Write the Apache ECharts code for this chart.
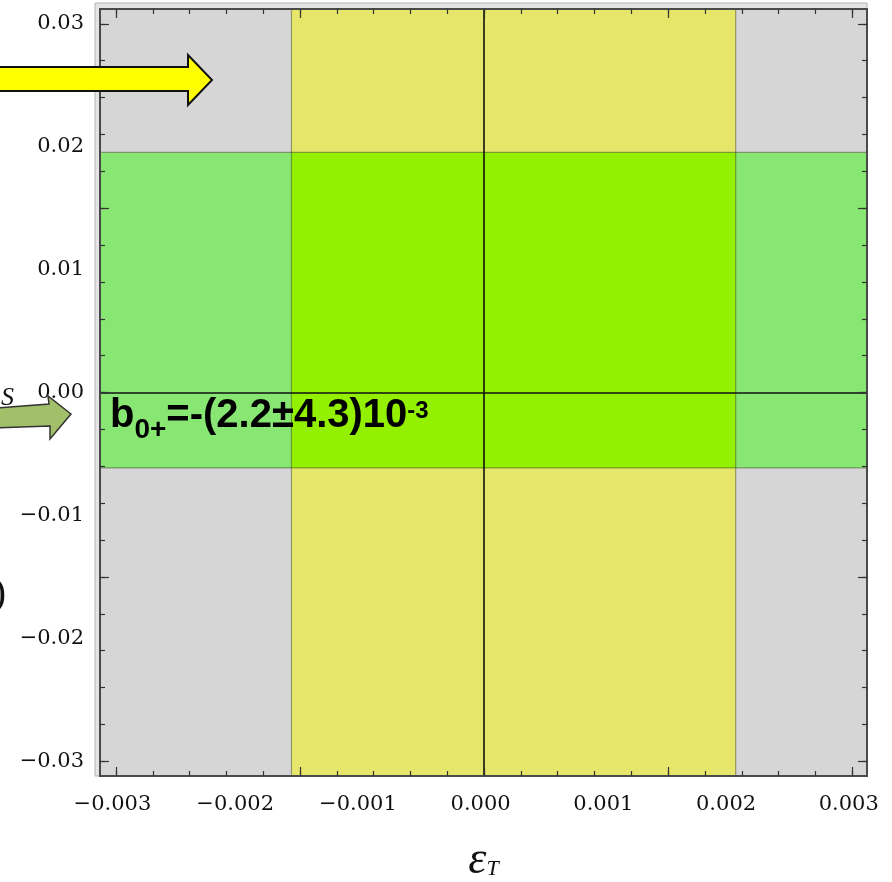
<!DOCTYPE html>
<html>
<head>
<meta charset="utf-8">
<script src="https://cdn.jsdelivr.net/npm/echarts@6/dist/echarts.min.js"></script>
<style>html,body{margin:0;padding:0;background:#fff;}#c{width:892px;height:882px;}</style>
</head>
<body>
<div id="c"></div>
<script>
// ---- data ----
const xRange = [-0.00313, 0.00312];
const yRange = [-0.0312, 0.0312];
const epsTBand = [-0.00157, 0.00205];   // allowed epsilon_T (vertical yellow band)
const b0Band = [-0.00614, 0.01953];     // allowed region (horizontal green band)
const xTickLabels = [-0.003, -0.002, -0.001, 0, 0.001, 0.002, 0.003];
const xMajorTicks = [-0.003, -0.0015, 0, 0.0015, 0.003];
const xMinorTicks = [-0.003, -0.0027, -0.0024, -0.0021, -0.0018, -0.0015, -0.0012, -0.0009, -0.0006, -0.0003, 0,
                     0.0003, 0.0006, 0.0009, 0.0012, 0.0015, 0.0018, 0.0021, 0.0024, 0.0027, 0.003];
const yTickLabels = [-0.03, -0.02, -0.01, 0, 0.01, 0.02, 0.03];
const yMajorTicks = [-0.03, -0.015, 0, 0.015, 0.03];
const yMinorTicks = [-0.03, -0.027, -0.024, -0.021, -0.018, -0.015, -0.012, -0.009, -0.006, -0.003, 0,
                     0.003, 0.006, 0.009, 0.012, 0.015, 0.018, 0.021, 0.024, 0.027, 0.03];

const frameLine = {show: true, onZero: false, lineStyle: {color: '#4a4a4a', width: 2}};
const tickStyle = {color: '#333', width: 1.2};
function fmt(v, d) {
  const s = Math.abs(v).toFixed(d);
  return (v < -1e-12 ? '\u2212' : '') + s;
}
const labelFont = {fontFamily: 'DejaVu Serif', fontSize: 21, color: '#111'};

function xAx(gridIndex, position, ticks, len, withLabels) {
  const a = {
    type: 'value', gridIndex, position, min: xRange[0], max: xRange[1], z: 10,
    axisLine: frameLine,
    axisTick: {show: true, inside: true, length: len, lineStyle: tickStyle, customValues: ticks},
    axisLabel: {show: false},
    splitLine: {show: false}
  };
  if (withLabels) {
    a.axisLabel = Object.assign({show: true, customValues: xTickLabels, margin: 18, padding: [0, 7, 0, 0],
      formatter: v => fmt(v, 3)}, labelFont);
    a.name = '{e|\u03b5}{t|T}';
    a.nameLocation = 'middle';
    a.nameGap = 62;
    a.nameTextStyle = {
      rich: {
        e: {fontFamily: 'Liberation Serif', fontStyle: 'italic', fontSize: 46, color: '#111', lineHeight: 46},
        t: {fontFamily: 'Liberation Serif', fontStyle: 'italic', fontSize: 22, color: '#111', lineHeight: 22, padding: [16, 0, 0, 0]}
      }
    };
  }
  return a;
}
function yAx(gridIndex, position, ticks, len, withLabels) {
  const a = {
    type: 'value', gridIndex, position, min: yRange[0], max: yRange[1], z: 10,
    axisLine: frameLine,
    axisTick: {show: true, inside: true, length: len, lineStyle: tickStyle, customValues: ticks},
    axisLabel: {show: false},
    splitLine: {show: false}
  };
  if (withLabels) {
    a.axisLabel = Object.assign({show: true, customValues: yTickLabels, margin: 16, padding: [0, 0, 5, 0],
      formatter: v => fmt(v, 2)}, labelFont);
  }
  return a;
}

const gridBox = {left: 100, right: 25, top: 9, bottom: 106, containLabel: false, outerBoundsMode: 'none'};

const fillData = [
  {value: [epsTBand[0], epsTBand[1], yRange[0], yRange[1]], itemStyle: {color: '#e6e66b'}},
  {value: [xRange[0], xRange[1], b0Band[0], b0Band[1]], itemStyle: {color: '#88e673'}},
  {value: [epsTBand[0], epsTBand[1], b0Band[0], b0Band[1]], itemStyle: {color: '#92f000'}}
];
const edgeData = [
  {value: [epsTBand[0], epsTBand[1], yRange[0], yRange[1]]},
  {value: [xRange[0], xRange[1], b0Band[0], b0Band[1]]}
];

function rectItem(api, style) {
  const p0 = api.coord([api.value(0), api.value(3)]);
  const p1 = api.coord([api.value(1), api.value(2)]);
  return {type: 'rect', shape: {x: p0[0], y: p0[1], width: p1[0] - p0[0], height: p1[1] - p0[1]}, style};
}

const chart = echarts.init(document.getElementById('c'), null, {renderer: 'canvas'});
chart.setOption({
  animation: false,
  backgroundColor: '#ffffff',
  grid: [
    Object.assign({show: true, backgroundColor: '#d6d6d6', borderWidth: 0}, gridBox),
    Object.assign({show: false}, gridBox)
  ],
  xAxis: [
    xAx(0, 'bottom', xMajorTicks, 9, true),
    xAx(0, 'top', xMajorTicks, 9, false),
    xAx(1, 'bottom', xMinorTicks, 5, false),
    xAx(1, 'top', xMinorTicks, 5, false)
  ],
  yAxis: [
    yAx(0, 'left', yMajorTicks, 9, true),
    yAx(0, 'right', yMajorTicks, 9, false),
    yAx(1, 'left', yMinorTicks, 5, false),
    yAx(1, 'right', yMinorTicks, 5, false)
  ],
  series: [
    {
      type: 'custom', xAxisIndex: 0, yAxisIndex: 0, clip: true, silent: true,
      renderItem: (params, api) => rectItem(api, {fill: api.visual('color')}),
      data: fillData
    },
    {
      type: 'custom', xAxisIndex: 0, yAxisIndex: 0, clip: true, silent: true,
      renderItem: (params, api) => rectItem(api, {fill: null, stroke: 'rgba(60,60,30,0.45)', lineWidth: 1.2}),
      data: edgeData,
      markLine: {
        silent: true, symbol: ['none', 'none'], label: {show: false},
        lineStyle: {color: '#111', width: 1.6, type: 'solid'},
        data: [{xAxis: 0}, {yAxis: 0}]
      }
    }
  ],
  graphic: [
    {type: 'rect', z: -1, shape: {x: 95, y: 3, width: 772, height: 773},
     style: {fill: '#e4e4e4', stroke: '#b4b4b4', lineWidth: 1}},
    {type: 'polygon', z: 100,
     shape: {points: [[-5, 67], [188, 67], [188, 55], [212, 80], [188, 105], [188, 91], [-5, 91]]},
     style: {fill: '#ffff00', stroke: '#111', lineWidth: 2}},
    {type: 'polygon', z: 100,
     shape: {points: [[-5, 408], [49, 404], [48, 396], [71, 414], [50, 439], [50, 426], [-5, 428]]},
     style: {fill: '#a2c06a', stroke: '#333', lineWidth: 1.5}},
    {type: 'text', z: 100, x: 14, y: 398,
     style: {text: 'S', fontFamily: 'Liberation Serif', fontStyle: 'italic', fontSize: 26, fill: '#111',
             align: 'right', verticalAlign: 'middle'}},
    {type: 'text', z: 100, x: 6, y: 594,
     style: {text: ')', fontFamily: 'Liberation Serif', fontSize: 40, fill: '#111',
             align: 'right', verticalAlign: 'middle'}},
    {type: 'text', z: 100, x: 110, y: 416,
     style: {
       text: '{m|b}{s|0+}{m|=-(2.2\u00b14.3)10}{p|-3}',
       align: 'left', verticalAlign: 'middle',
       rich: {
         m: {fontFamily: 'Liberation Sans', fontWeight: 'bold', fontSize: 40, lineHeight: 40, fill: '#000'},
         s: {fontFamily: 'Liberation Sans', fontWeight: 'bold', fontSize: 28, lineHeight: 28, fill: '#000', padding: [28, 0, 0, 0]},
         p: {fontFamily: 'Liberation Sans', fontWeight: 'bold', fontSize: 24, lineHeight: 24, fill: '#000', padding: [0, 0, 9, 0]}
       }
     }}
  ]
});
</script>
</body>
</html>
